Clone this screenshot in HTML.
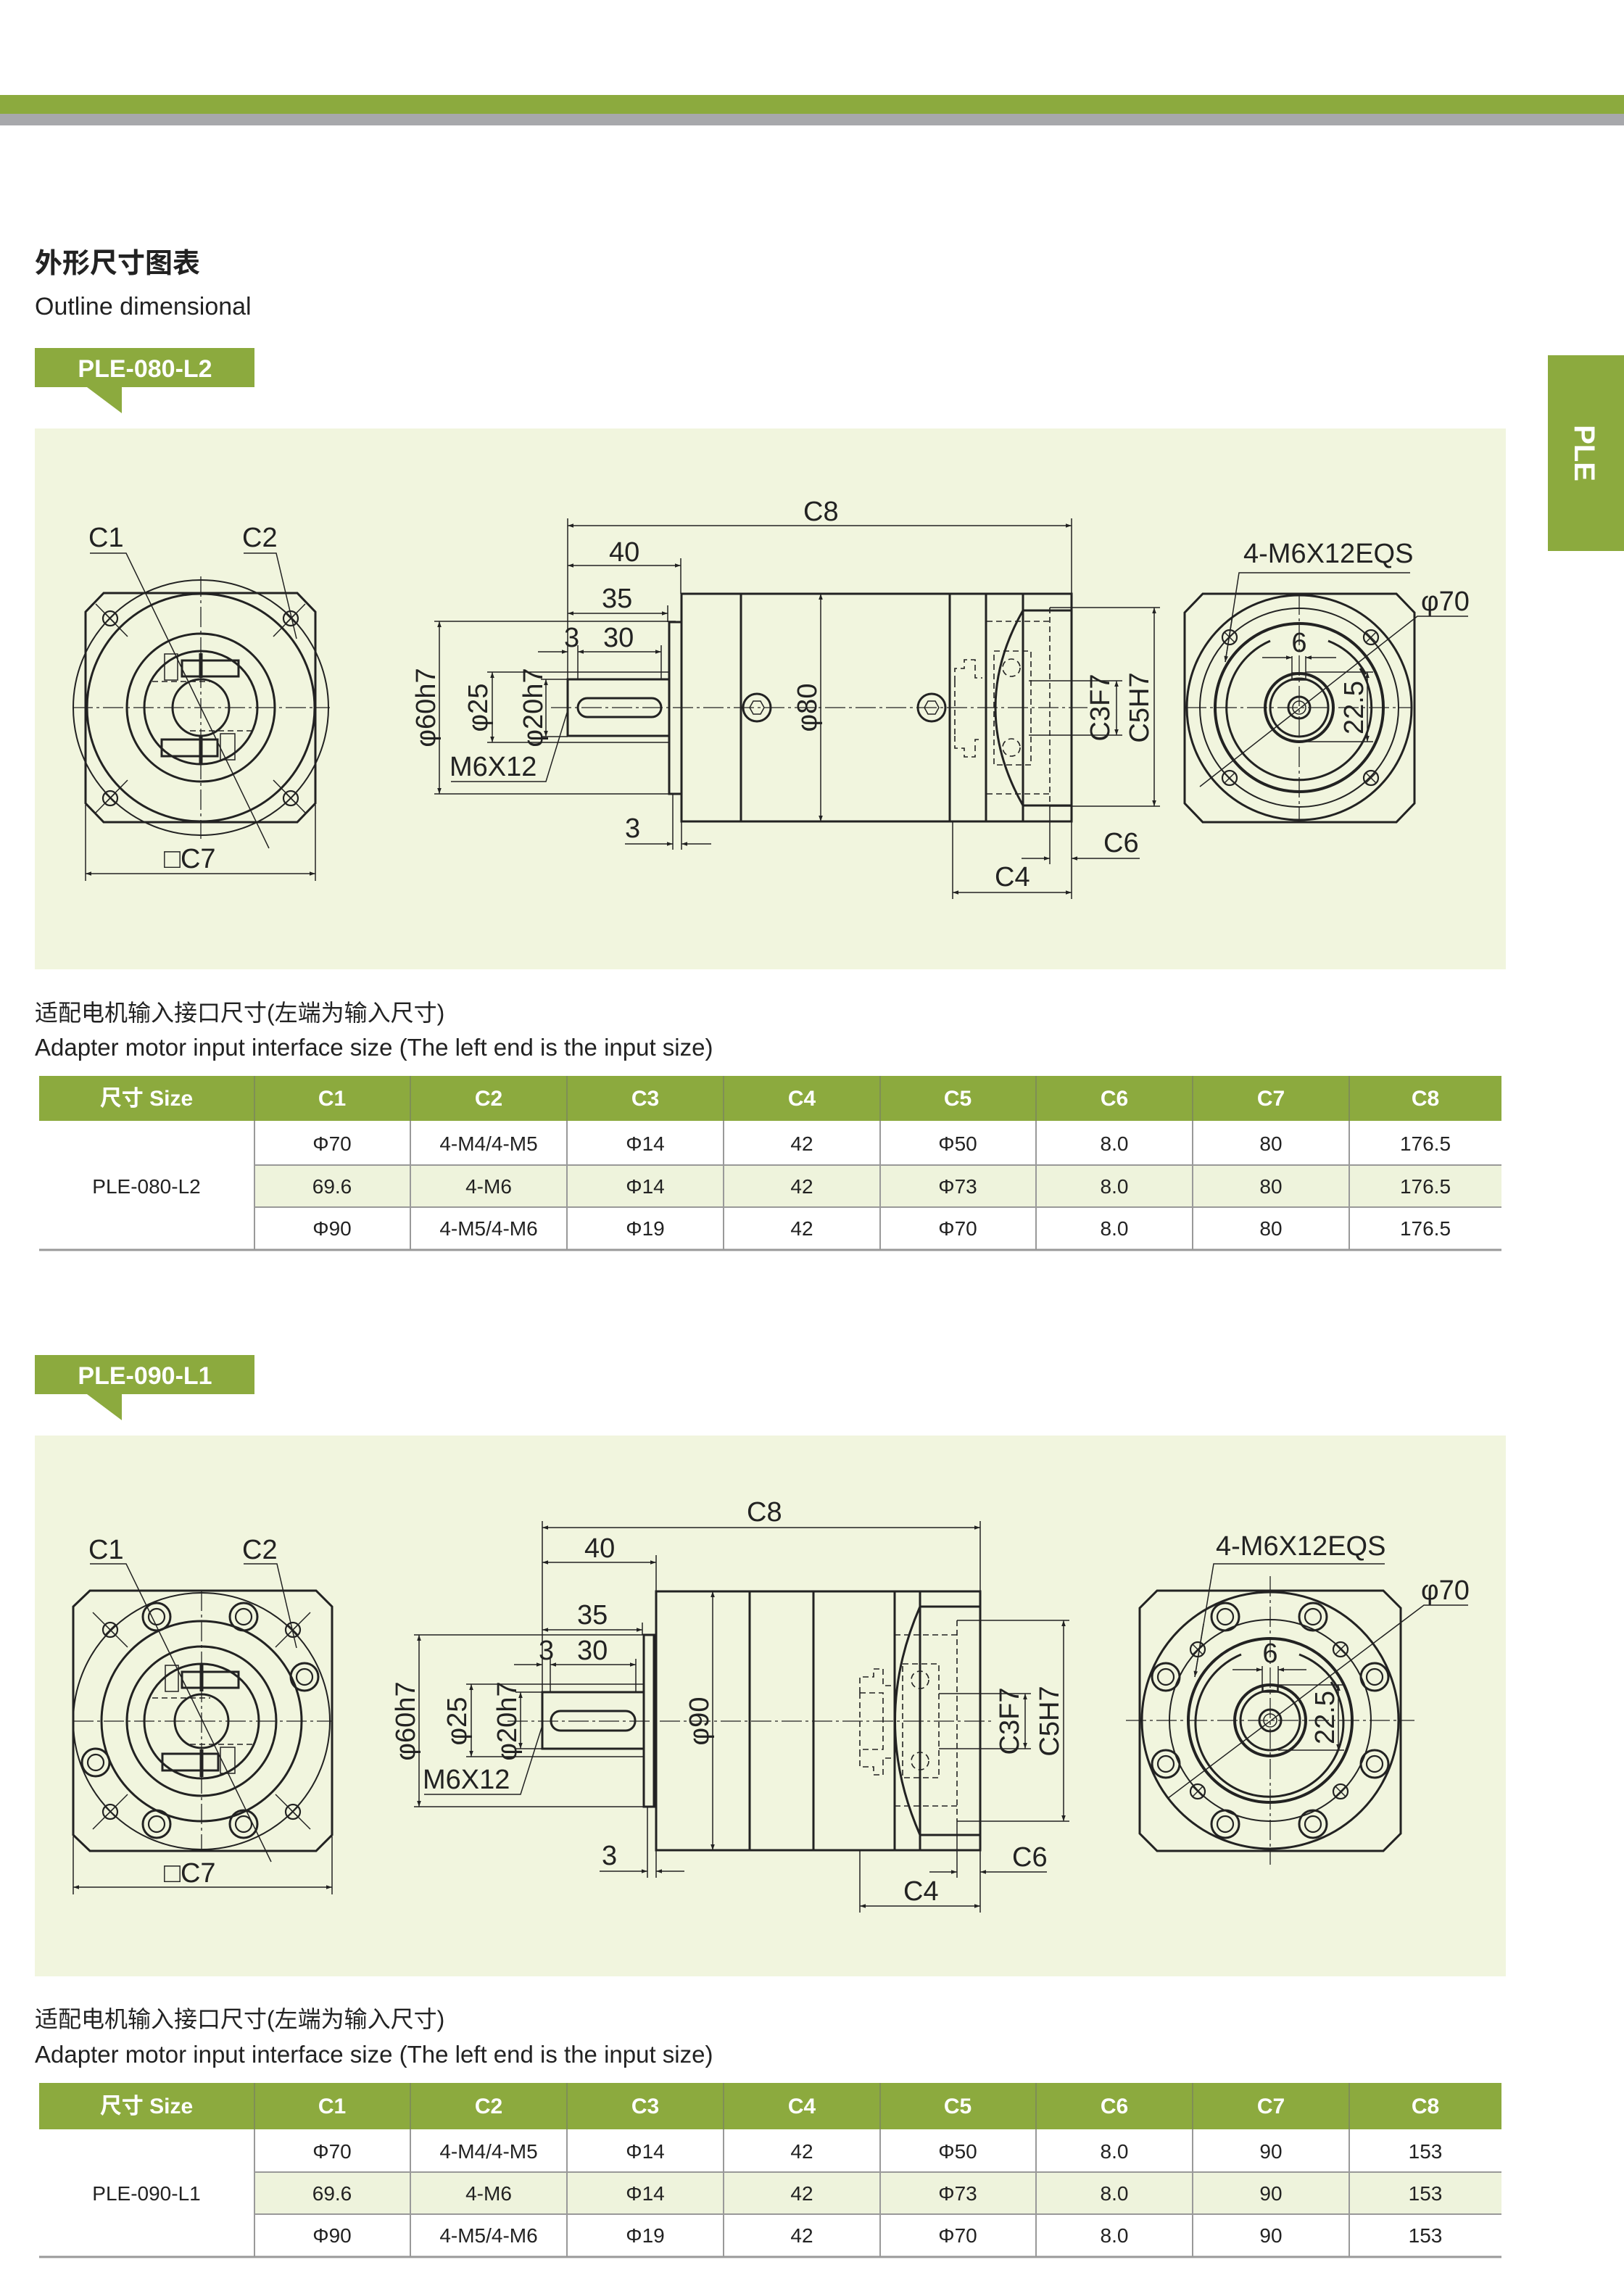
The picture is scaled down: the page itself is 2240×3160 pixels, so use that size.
<!DOCTYPE html>
<html><head><meta charset="utf-8"><style>
html,body{margin:0;padding:0;background:#fff}
svg{display:block}
.k{stroke:#222;stroke-width:3;fill:none}
.t{stroke:#222;stroke-width:1.5;fill:none}
.d{stroke:#222;stroke-width:1.6;fill:none;stroke-dasharray:8 5}
.c{stroke:#222;stroke-width:1.3;fill:none;stroke-dasharray:28 5 4 5}
.dm{stroke:#222;stroke-width:1.5;fill:none;marker-start:url(#a);marker-end:url(#a)}
.da{stroke:#222;stroke-width:1.5;fill:none;marker-end:url(#a)}
.lb{font-family:"Liberation Sans",sans-serif;font-size:38px;fill:#222}
.tb{font-family:"Liberation Sans","Noto Sans CJK SC",sans-serif;font-size:28px;fill:#222;text-anchor:middle}
.th{font-family:"Liberation Sans","Noto Sans CJK SC",sans-serif;font-size:30px;fill:#fff;font-weight:bold;text-anchor:middle}
</style></head><body>
<svg width="2240" height="3160" viewBox="0 0 2240 3160" xmlns="http://www.w3.org/2000/svg">
<defs>
<marker id="a" viewBox="0 0 10 10" refX="10" refY="5" markerWidth="16" markerHeight="8" markerUnits="userSpaceOnUse" orient="auto-start-reverse"><path d="M0,1.5 L10,5 L0,8.5z" fill="#222"/></marker>
<g id="hx"><circle r="10" class="k" style="stroke-width:2.2"/><path d="M-7,-7L7,7M-7,7L7,-7" class="t"/></g>
<g id="bs"><circle r="19" fill="#f1f5de" class="k"/><circle r="11" class="k" style="stroke-width:2.2"/></g>
</defs>

<!-- header bars -->
<rect x="0" y="131" width="2240" height="26" fill="#8caa3e"/>
<rect x="0" y="157" width="2240" height="16" fill="#a7a8ab"/>
<text x="48" y="376" style="font-family:'Liberation Sans','Noto Sans CJK SC',sans-serif;font-size:38px;font-weight:bold;fill:#222">外形尺寸图表</text>
<text x="48" y="434" style="font-family:'Liberation Sans',sans-serif;font-size:34px;fill:#222">Outline dimensional</text>

<!-- right tab -->
<rect x="2135" y="490" width="105" height="270" fill="#8caa3e"/>
<text transform="translate(2172,625) rotate(90)" style="font-family:'Liberation Sans',sans-serif;font-size:40px;font-weight:bold;fill:#fff" text-anchor="middle">PLE</text>

<!-- tag 1 -->
<rect x="48" y="480" width="303" height="54" fill="#8caa3e"/>
<path d="M120,534 L168,534 L168,570z" fill="#8caa3e"/>
<text x="200" y="520" style="font-family:'Liberation Sans',sans-serif;font-size:34px;font-weight:bold;fill:#fff" text-anchor="middle">PLE-080-L2</text>

<!-- panel 1 -->
<rect x="48" y="591" width="2029" height="746" fill="#f1f5de"/>

<!-- ===== DIAGRAM 1 LEFT VIEW ===== -->
<polygon points="143,818 410,818 435,844 435,1108 410,1134 143,1134 118,1108 118,844" class="k"/>
<circle cx="277" cy="976" r="176" class="t" style="stroke-width:2"/>
<circle cx="277" cy="976" r="157" class="k"/>
<circle cx="277" cy="976" r="102" class="k"/>
<circle cx="277" cy="976" r="78" class="k"/>
<circle cx="277" cy="976" r="39" class="k"/>
<path d="M100,976H455M277,795V1157" class="c"/>
<use href="#hx" x="152" y="853"/><use href="#hx" x="401" y="853"/><use href="#hx" x="152" y="1101"/><use href="#hx" x="401" y="1101"/>
<path d="M132,833L176,878M421,833L377,878M132,1121L176,1076M421,1121L377,1076" class="t"/>
<rect x="251" y="911" width="78" height="22" class="k"/>
<rect x="223" y="1020" width="77" height="23" class="k"/>
<rect x="227" y="902" width="18" height="36" class="t"/>
<rect x="304" y="1012" width="20" height="36" class="t"/>
<path d="M277,901V935M277,1016V1053" class="k" style="stroke-width:5"/>
<path d="M210,940H290M262,1008H350" class="d"/>
<text x="122" y="754" class="lb">C1</text><path d="M124,763H174L371,1170" class="t"/>
<text x="334" y="754" class="lb">C2</text><path d="M336,763H381L409,881" class="t"/>
<path d="M118,1110V1215M435,1110V1215" class="t"/>
<path d="M118,1205H435" class="dm"/>
<text x="226" y="1197" class="lb">□C7</text>

<!-- ===== DIAGRAM 1 SIDE VIEW ===== -->
<path d="M783,715V1015M1478,715V819" class="t"/>
<path d="M783,725H1478" class="dm"/><text x="1108" y="718" class="lb">C8</text>
<path d="M939,770V819" class="t"/>
<path d="M783,780H939" class="dm"/><text x="840" y="774" class="lb">40</text>
<path d="M921,835V858" class="t"/>
<path d="M783,846H921" class="dm"/><text x="830" y="838" class="lb">35</text>
<path d="M742,899H783" class="da"/><path d="M797,899H912" class="dm"/><path d="M797,890V937M912,890V937" class="t"/>
<text x="778" y="892" class="lb">3</text><text x="832" y="892" class="lb">30</text>
<path d="M599,857H932M599,1095H932" class="t"/><path d="M606,857V1095" class="dm"/>
<text transform="translate(600,976) rotate(-90)" class="lb" text-anchor="middle">φ60h7</text>
<path d="M672,927H923M672,1024H923" class="t"/><path d="M679,927V1024" class="dm"/>
<text transform="translate(672,976) rotate(-90)" class="lb" text-anchor="middle">φ25</text>
<path d="M746,937H783M746,1016H783" class="t"/><path d="M753,937V1016" class="dm"/>
<text transform="translate(748,976) rotate(-90)" class="lb" text-anchor="middle">φ20h7</text>
<rect x="783" y="937" width="140" height="78" class="k"/>
<rect x="797" y="963" width="115" height="26" rx="13" class="k"/>
<rect x="923" y="858" width="17" height="237" class="k"/>
<text x="620" y="1070" class="lb">M6X12</text><path d="M622,1078H753L783,980" class="t"/>
<path d="M928,1095V1172M940,1133V1172" class="t"/>
<path d="M862,1164H928" class="da"/><path d="M981,1164H940" class="da"/>
<text x="862" y="1155" class="lb">3</text>
<rect x="940" y="819" width="538" height="314" class="k"/>
<path d="M1022,819V1133M1310,819V1133M1360,819V1133M1411,819V1133" class="k"/>
<path d="M1411,842H1478M1411,1111H1478" class="k"/>
<path d="M1411,842Q1335,976 1411,1111" class="k"/>
<path d="M1132,819V1133" class="dm"/>
<text transform="translate(1126,976) rotate(-90)" class="lb" text-anchor="middle">φ80</text>
<circle cx="1044" cy="976" r="19" class="k"/><polygon points="1054,976 1049,967 1039,967 1034,976 1039,985 1049,985" class="t"/>
<circle cx="1285" cy="976" r="19" class="k"/><polygon points="1295,976 1290,967 1280,967 1275,976 1280,985 1290,985" class="t"/>
<path d="M760,976H1500" class="c"/>
<path d="M1448,838V1114M1361,857H1448M1361,1095H1448" class="d"/>
<rect x="1371" y="898" width="51" height="157" class="d"/>
<circle cx="1395" cy="921" r="12" class="d"/><circle cx="1395" cy="1031" r="12" class="d"/>
<path d="M1317,940V922H1330V910H1345V935H1355M1317,1015V1032H1330V1044H1345V1020H1355M1317,940V1015" class="d"/>
<path d="M1419,939H1548M1419,1014H1548" class="t"/><path d="M1540,939V1014" class="dm"/>
<text transform="translate(1530,976) rotate(-90)" class="lb" text-anchor="middle">C3F7</text>
<path d="M1448,838H1600M1448,1112H1600" class="t"/><path d="M1592,838V1112" class="dm"/>
<text transform="translate(1584,976) rotate(-90)" class="lb" text-anchor="middle">C5H7</text>
<path d="M1448,1114V1192M1478,1133V1240M1314,1133V1240" class="t"/>
<path d="M1409,1184H1448" class="da"/><path d="M1572,1184H1478" class="da"/>
<text x="1522" y="1175" class="lb">C6</text>
<path d="M1314,1231H1478" class="dm"/><text x="1372" y="1222" class="lb">C4</text>

<!-- ===== DIAGRAM 1 RIGHT VIEW ===== -->
<polygon points="1659,819 1926,819 1951,845 1951,1108 1926,1134 1659,1134 1634,1108 1634,845" class="k"/>
<circle cx="1792" cy="976" r="155" class="k"/>
<circle cx="1792" cy="976" r="137" class="t" style="stroke-width:2"/>
<circle cx="1792" cy="976" r="116" class="k" style="stroke-width:4"/>
<path d="M1752,884A100,100 0 1,0 1876,922" class="k"/>
<path d="M1832,884A100,100 0 0,1 1884,930" class="k"/>
<circle cx="1792" cy="976" r="47" class="k" style="stroke-width:4"/>
<circle cx="1792" cy="976" r="40" class="k"/>
<circle cx="1792" cy="976" r="15" class="k"/>
<circle cx="1792" cy="976" r="9" class="t"/>
<rect x="1782" y="928" width="19" height="10" class="t"/>
<path d="M1636,976H1948M1792,820V1132" class="c"/>
<use href="#hx" x="1696" y="879"/><use href="#hx" x="1891" y="879"/><use href="#hx" x="1696" y="1073"/><use href="#hx" x="1891" y="1073"/>
<path d="M1655,1085L1955,850H2025" class="t"/>
<text x="1960" y="842" class="lb">φ70</text>
<text x="1715" y="776" class="lb">4-M6X12EQS</text>
<path d="M1945,790H1709L1690,913" class="t"/><path d="M1700,850L1690,913" class="da"/>
<path d="M1782,905V930M1801,905V930" class="t"/>
<path d="M1741,907H1782" class="da"/><path d="M1843,907H1801" class="da"/>
<text x="1792" y="899" class="lb" text-anchor="middle">6</text>
<path d="M1801,927H1894M1801,1023H1894" class="t"/><path d="M1886,927V1023" class="dm"/>
<text transform="translate(1880,976) rotate(-90)" class="lb" text-anchor="middle">22.5</text>

<!-- captions 1 -->
<text x="48" y="1408" style="font-family:'Liberation Sans','Noto Sans CJK SC',sans-serif;font-size:32px;fill:#222">适配电机输入接口尺寸(左端为输入尺寸)</text>
<text x="48" y="1456" style="font-family:'Liberation Sans',sans-serif;font-size:33px;fill:#222">Adapter motor input interface size (The left end is the input size)</text>

<!-- table 1 -->
<rect x="54" y="1484" width="2017" height="62" fill="#8caa3e"/>
<rect x="351" y="1607" width="1720" height="58" fill="#eef3dc"/>
<g stroke="#7f8f55" stroke-width="2"><path d="M351,1484V1546M566,1484V1546M782,1484V1546M998,1484V1546M1214,1484V1546M1429,1484V1546M1645,1484V1546M1861,1484V1546"/></g>
<g stroke="#999" stroke-width="2"><path d="M351,1546V1724M566,1546V1724M782,1546V1724M998,1546V1724M1214,1546V1724M1429,1546V1724M1645,1546V1724M1861,1546V1724M351,1607H2071M351,1665H2071"/></g>
<path d="M54,1724H2071" stroke="#999" stroke-width="3"/>
<text x="202" y="1525" class="th">尺寸 Size</text><text x="458" y="1525" class="th">C1</text><text x="674" y="1525" class="th">C2</text><text x="890" y="1525" class="th">C3</text><text x="1106" y="1525" class="th">C4</text><text x="1321" y="1525" class="th">C5</text><text x="1537" y="1525" class="th">C6</text><text x="1753" y="1525" class="th">C7</text><text x="1966" y="1525" class="th">C8</text>
<text x="202" y="1646" class="tb">PLE-080-L2</text>
<g class="tb"><text x="458" y="1587" class="tb">Φ70</text><text x="674" y="1587" class="tb">4-M4/4-M5</text><text x="890" y="1587" class="tb">Φ14</text><text x="1106" y="1587" class="tb">42</text><text x="1321" y="1587" class="tb">Φ50</text><text x="1537" y="1587" class="tb">8.0</text><text x="1753" y="1587" class="tb">80</text><text x="1966" y="1587" class="tb">176.5</text>
<text x="458" y="1646" class="tb">69.6</text><text x="674" y="1646" class="tb">4-M6</text><text x="890" y="1646" class="tb">Φ14</text><text x="1106" y="1646" class="tb">42</text><text x="1321" y="1646" class="tb">Φ73</text><text x="1537" y="1646" class="tb">8.0</text><text x="1753" y="1646" class="tb">80</text><text x="1966" y="1646" class="tb">176.5</text>
<text x="458" y="1704" class="tb">Φ90</text><text x="674" y="1704" class="tb">4-M5/4-M6</text><text x="890" y="1704" class="tb">Φ19</text><text x="1106" y="1704" class="tb">42</text><text x="1321" y="1704" class="tb">Φ70</text><text x="1537" y="1704" class="tb">8.0</text><text x="1753" y="1704" class="tb">80</text><text x="1966" y="1704" class="tb">176.5</text></g>

<!-- tag 2 -->
<rect x="48" y="1869" width="303" height="54" fill="#8caa3e"/>
<path d="M120,1923 L168,1923 L168,1959z" fill="#8caa3e"/>
<text x="200" y="1909" style="font-family:'Liberation Sans',sans-serif;font-size:34px;font-weight:bold;fill:#fff" text-anchor="middle">PLE-090-L1</text>

<!-- panel 2 -->
<rect x="48" y="1980" width="2029" height="746" fill="#f1f5de"/>

<!-- ===== DIAGRAM 2 LEFT VIEW ===== -->
<polygon points="124,2194 436,2194 458,2216 458,2531 436,2553 124,2553 101,2531 101,2216" class="k"/>
<circle cx="278" cy="2374" r="177" class="t" style="stroke-width:2"/>
<circle cx="278" cy="2374" r="138" class="k"/>
<circle cx="278" cy="2374" r="103" class="k"/>
<circle cx="278" cy="2374" r="79" class="k"/>
<circle cx="278" cy="2374" r="37" class="k"/>
<path d="M101,2374H458M278,2194V2553" class="c"/>
<use href="#bs" x="216" y="2230"/><use href="#bs" x="336" y="2230"/><use href="#bs" x="420" y="2313"/><use href="#bs" x="132" y="2431"/><use href="#bs" x="216" y="2516"/><use href="#bs" x="336" y="2516"/>
<use href="#hx" x="152" y="2248"/><use href="#hx" x="404" y="2248"/><use href="#hx" x="152" y="2499"/><use href="#hx" x="404" y="2499"/>
<path d="M128,2224L176,2272M428,2224L380,2272M128,2523L176,2475M428,2523L380,2475" class="t"/>
<rect x="251" y="2306" width="78" height="22" class="k"/>
<rect x="224" y="2419" width="77" height="23" class="k"/>
<rect x="228" y="2297" width="18" height="36" class="t"/>
<rect x="304" y="2410" width="20" height="36" class="t"/>
<path d="M278,2296V2333M278,2413V2451" class="k" style="stroke-width:5"/>
<path d="M210,2342H290M262,2406H350" class="d"/>
<text x="122" y="2150" class="lb">C1</text><path d="M124,2157H174L374,2568" class="t"/>
<text x="334" y="2150" class="lb">C2</text><path d="M336,2157H382L409,2273" class="t"/>
<path d="M101,2533V2613M458,2533V2613" class="t"/>
<path d="M101,2603H458" class="dm"/>
<text x="226" y="2596" class="lb">□C7</text>

<!-- ===== DIAGRAM 2 SIDE VIEW ===== -->
<path d="M748,2098V2412M1352,2098V2195" class="t"/>
<path d="M748,2107H1352" class="dm"/><text x="1030" y="2098" class="lb">C8</text>
<path d="M905,2145V2195" class="t"/>
<path d="M748,2155H905" class="dm"/><text x="806" y="2148" class="lb">40</text>
<path d="M886,2238V2255" class="t"/>
<path d="M748,2248H886" class="dm"/><text x="796" y="2240" class="lb">35</text>
<path d="M709,2296H748" class="da"/><path d="M759,2296H877" class="dm"/><path d="M759,2288V2334M877,2288V2334" class="t"/>
<text x="743" y="2289" class="lb">3</text><text x="796" y="2289" class="lb">30</text>
<path d="M571,2255H900M571,2492H900" class="t"/><path d="M578,2255V2492" class="dm"/>
<text transform="translate(572,2374) rotate(-90)" class="lb" text-anchor="middle">φ60h7</text>
<path d="M643,2323H888M643,2423H888" class="t"/><path d="M650,2323V2423" class="dm"/>
<text transform="translate(643,2374) rotate(-90)" class="lb" text-anchor="middle">φ25</text>
<path d="M711,2334H748M711,2412H748" class="t"/><path d="M718,2334V2412" class="dm"/>
<text transform="translate(712,2374) rotate(-90)" class="lb" text-anchor="middle">φ20h7</text>
<rect x="748" y="2334" width="140" height="78" class="k"/>
<rect x="760" y="2360" width="116" height="27" rx="13" class="k"/>
<rect x="888" y="2255" width="14" height="237" class="k"/>
<text x="583" y="2467" class="lb">M6X12</text><path d="M585,2475H718L748,2380" class="t"/>
<path d="M893,2492V2590M905,2552V2590" class="t"/>
<path d="M827,2581H893" class="da"/><path d="M944,2581H905" class="da"/>
<text x="830" y="2572" class="lb">3</text>
<rect x="905" y="2195" width="447" height="357" class="k"/>
<path d="M1034,2195V2552M1122,2195V2552M1234,2195V2552M1269,2195V2552" class="k"/>
<path d="M1269,2216H1352M1269,2531H1352" class="k"/>
<path d="M1269,2216Q1200,2374 1269,2531" class="k"/>
<path d="M983,2195V2552" class="dm"/>
<text transform="translate(977,2374) rotate(-90)" class="lb" text-anchor="middle">φ90</text>
<path d="M700,2374H1370" class="c"/>
<path d="M1320,2235V2512M1234,2255H1320M1234,2491H1320" class="d"/>
<rect x="1245" y="2295" width="50" height="157" class="d"/>
<circle cx="1269" cy="2317" r="12" class="d"/><circle cx="1269" cy="2429" r="12" class="d"/>
<path d="M1186,2335V2313H1205V2302H1218V2325H1234M1186,2415V2437H1205V2448H1218V2425H1234M1186,2335V2415M1186,2335H1218V2413H1186" class="d"/>
<path d="M1295,2336H1422M1295,2412H1422" class="t"/><path d="M1414,2336V2412" class="dm"/>
<text transform="translate(1405,2374) rotate(-90)" class="lb" text-anchor="middle">C3F7</text>
<path d="M1320,2235H1475M1320,2512H1475" class="t"/><path d="M1467,2235V2512" class="dm"/>
<text transform="translate(1460,2374) rotate(-90)" class="lb" text-anchor="middle">C5H7</text>
<path d="M1320,2512V2590M1352,2552V2638M1186,2552V2638" class="t"/>
<path d="M1282,2582H1320" class="da"/><path d="M1444,2582H1352" class="da"/>
<text x="1396" y="2574" class="lb">C6</text>
<path d="M1186,2629H1352" class="dm"/><text x="1246" y="2621" class="lb">C4</text>

<!-- ===== DIAGRAM 2 RIGHT VIEW ===== -->
<polygon points="1596,2194 1908,2194 1932,2218 1932,2529 1908,2553 1596,2553 1572,2529 1572,2218" class="k"/>
<circle cx="1752" cy="2373" r="177" class="k"/>
<circle cx="1752" cy="2373" r="139" class="t" style="stroke-width:2"/>
<circle cx="1752" cy="2373" r="113" class="k" style="stroke-width:4"/>
<path d="M1712,2282A102,102 0 1,0 1836,2320" class="k"/>
<path d="M1792,2282A102,102 0 0,1 1845,2328" class="k"/>
<circle cx="1752" cy="2373" r="49" class="k" style="stroke-width:4"/>
<circle cx="1752" cy="2373" r="41" class="k"/>
<circle cx="1752" cy="2373" r="15" class="k"/>
<circle cx="1752" cy="2373" r="9" class="t"/>
<rect x="1742" y="2324" width="20" height="10" class="t"/>
<path d="M1553,2373H1951M1752,2174V2572" class="c"/>
<use href="#bs" x="1690" y="2230"/><use href="#bs" x="1811" y="2230"/><use href="#bs" x="1608" y="2313"/><use href="#bs" x="1896" y="2313"/><use href="#bs" x="1608" y="2433"/><use href="#bs" x="1896" y="2433"/><use href="#bs" x="1690" y="2516"/><use href="#bs" x="1811" y="2516"/>
<use href="#hx" x="1652" y="2275"/><use href="#hx" x="1849" y="2275"/><use href="#hx" x="1652" y="2471"/><use href="#hx" x="1849" y="2471"/>
<path d="M1610,2481L1964,2214H2025" class="t"/>
<text x="1960" y="2206" class="lb">φ70</text>
<text x="1677" y="2145" class="lb">4-M6X12EQS</text>
<path d="M1910,2157H1674L1648,2313" class="t"/><path d="M1660,2240L1648,2313" class="da"/>
<path d="M1741,2298V2334M1763,2298V2334" class="t"/>
<path d="M1700,2303H1741" class="da"/><path d="M1802,2303H1763" class="da"/>
<text x="1752" y="2293" class="lb" text-anchor="middle">6</text>
<path d="M1763,2324H1854M1763,2414H1854" class="t"/><path d="M1846,2324V2414" class="dm"/>
<text transform="translate(1840,2369) rotate(-90)" class="lb" text-anchor="middle">22.5</text>

<!-- captions 2 -->
<text x="48" y="2796" style="font-family:'Liberation Sans','Noto Sans CJK SC',sans-serif;font-size:32px;fill:#222">适配电机输入接口尺寸(左端为输入尺寸)</text>
<text x="48" y="2845" style="font-family:'Liberation Sans',sans-serif;font-size:33px;fill:#222">Adapter motor input interface size (The left end is the input size)</text>

<!-- table 2 -->
<rect x="54" y="2873" width="2017" height="64" fill="#8caa3e"/>
<rect x="351" y="2996" width="1720" height="58" fill="#eef3dc"/>
<g stroke="#7f8f55" stroke-width="2"><path d="M351,2873V2937M566,2873V2937M782,2873V2937M998,2873V2937M1214,2873V2937M1429,2873V2937M1645,2873V2937M1861,2873V2937"/></g>
<g stroke="#999" stroke-width="2"><path d="M351,2937V3113M566,2937V3113M782,2937V3113M998,2937V3113M1214,2937V3113M1429,2937V3113M1645,2937V3113M1861,2937V3113M351,2996H2071M351,3054H2071"/></g>
<path d="M54,3113H2071" stroke="#999" stroke-width="3"/>
<text x="202" y="2915" class="th">尺寸 Size</text><text x="458" y="2915" class="th">C1</text><text x="674" y="2915" class="th">C2</text><text x="890" y="2915" class="th">C3</text><text x="1106" y="2915" class="th">C4</text><text x="1321" y="2915" class="th">C5</text><text x="1537" y="2915" class="th">C6</text><text x="1753" y="2915" class="th">C7</text><text x="1966" y="2915" class="th">C8</text>
<text x="202" y="3035" class="tb">PLE-090-L1</text>
<text x="458" y="2977" class="tb">Φ70</text><text x="674" y="2977" class="tb">4-M4/4-M5</text><text x="890" y="2977" class="tb">Φ14</text><text x="1106" y="2977" class="tb">42</text><text x="1321" y="2977" class="tb">Φ50</text><text x="1537" y="2977" class="tb">8.0</text><text x="1753" y="2977" class="tb">90</text><text x="1966" y="2977" class="tb">153</text>
<text x="458" y="3035" class="tb">69.6</text><text x="674" y="3035" class="tb">4-M6</text><text x="890" y="3035" class="tb">Φ14</text><text x="1106" y="3035" class="tb">42</text><text x="1321" y="3035" class="tb">Φ73</text><text x="1537" y="3035" class="tb">8.0</text><text x="1753" y="3035" class="tb">90</text><text x="1966" y="3035" class="tb">153</text>
<text x="458" y="3093" class="tb">Φ90</text><text x="674" y="3093" class="tb">4-M5/4-M6</text><text x="890" y="3093" class="tb">Φ19</text><text x="1106" y="3093" class="tb">42</text><text x="1321" y="3093" class="tb">Φ70</text><text x="1537" y="3093" class="tb">8.0</text><text x="1753" y="3093" class="tb">90</text><text x="1966" y="3093" class="tb">153</text>
</svg>
</body></html>
